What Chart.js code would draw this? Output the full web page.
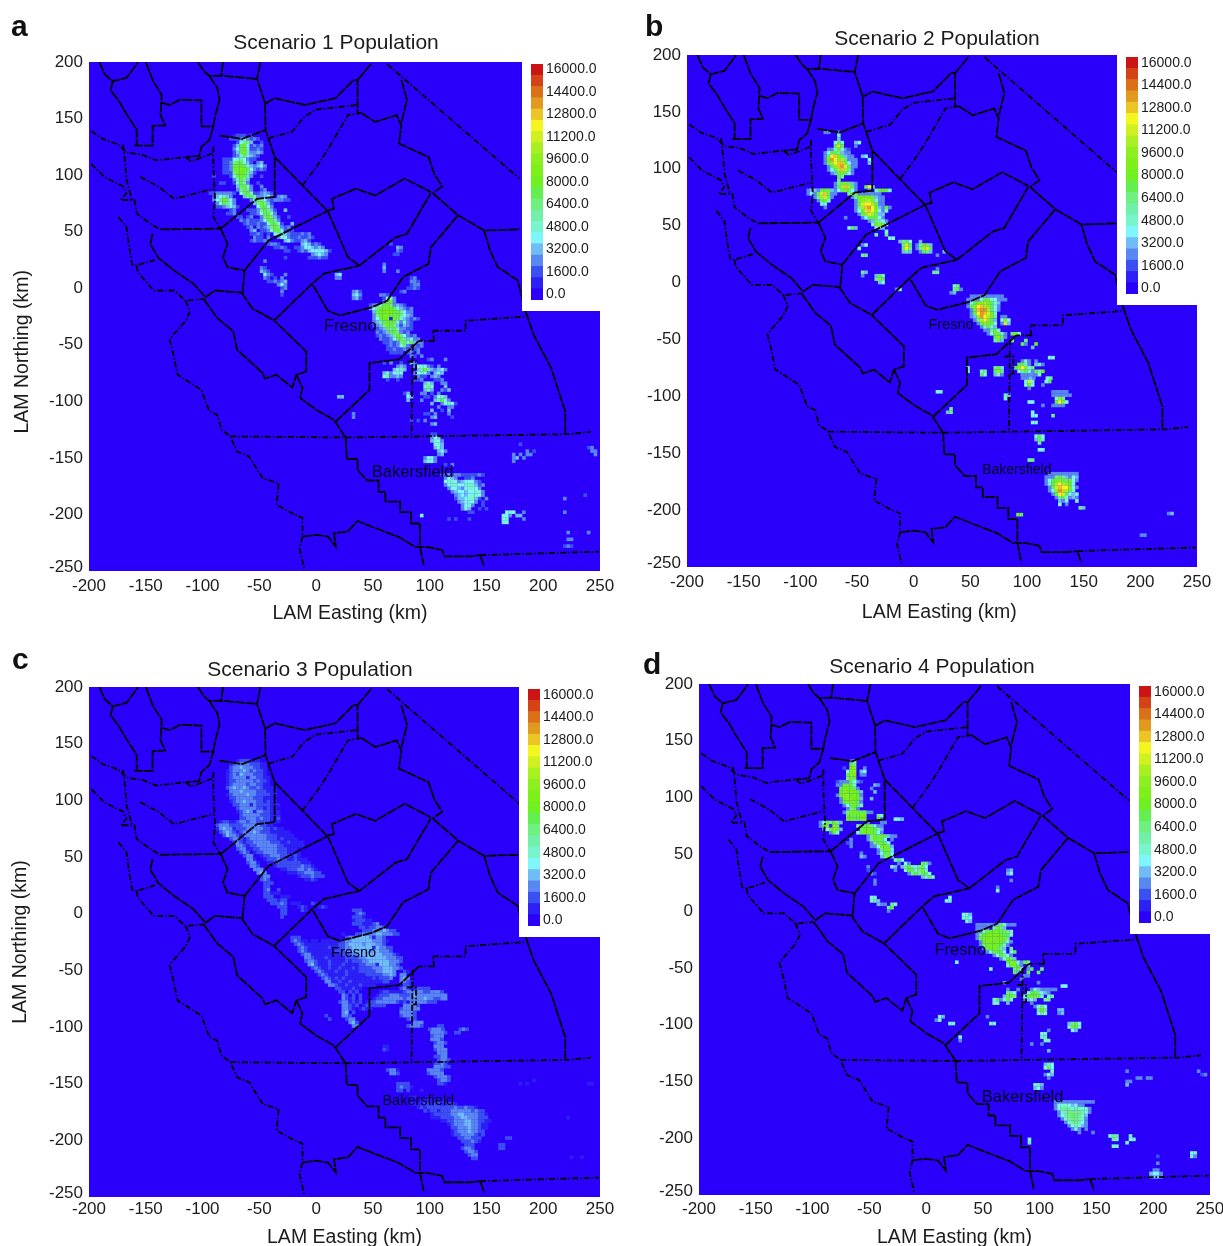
<!DOCTYPE html>
<html>
<head>
<meta charset="utf-8">
<title>Scenario Population</title>
<script src="https://cdn.jsdelivr.net/npm/chart.js@4"></script>
<style>
body { margin: 0; background: #fff; width: 1223px; height: 1246px; position: relative; overflow: hidden; }
canvas { position: absolute; filter: blur(0.6px); }
.letter { position: absolute; font: bold 30px "Liberation Sans", Arial, sans-serif; color: #111; line-height: 30px; }
.key { position: absolute; background: #fff; }
</style>
</head>
<body>
<script>
// Legend, low to high. One band is 800 people.
const bandColors = ['#2a00fa', '#2c20f6', '#3b50f2', '#5a88f2', '#6fbcf6', '#7ff6fb', '#78f5cc', '#70f0a8', '#70f080',
    '#62f050', '#6ff020', '#7cf018', '#8cf020', '#a8f020', '#d0f020', '#f6f61f', '#ecc424', '#e09a20', '#dc7018', '#d44218', '#cc1414'];
const legendTicks = ['16000.0', '', '14400.0', '', '12800.0', '', '11200.0', '', '9600.0', '', '8000.0', '', '6400.0', '', '4800.0', '', '3200.0', '', '1600.0', '', '0.0'];
const eastingTicks = [-200, -150, -100, -50, 0, 50, 100, 150, 200, 250];

// County lines in km, x,y,x,y...
const solidLines = [
    [-191,200,-186,189,-179,183,-167,186,-158,198,-157,200],
    [-179,183,-181,175,-174,166,-167,154,-158,140,-158,126],
    [-150,200,-144,184,-136,171,-137,153,-133,144,-144,143.5,-144,126,-160,126],
    [-136,164,-129,162,-120,166.6,-101,166,-101,143,-90.5,143,-94,131,-101,125,-103,117,-115,116],
    [-104,200,-99,192,-94,187.6,-83.5,188,-52,185],
    [-82,200,-83.5,188],
    [-94,187.6,-87,177,-85,167,-89,152,-90.5,143],
    [-49,200,-52,185,-45,163.6,-44.5,140,-36.5,116,-36.5,81],
    [-85,135,-65,132,-44.5,140],
    [-137.5,52,-84,52.7],
    [-144,48,-146,39,-139,27,-125,15.6,-108,4,-97.5,-8,-89,-2,-64,-4],
    [-84,52.7,-78,39.3,-82,27.5,-78,18.6,-63,15.7],
    [-63,15.7,-42,42,10,68.3],
    [-84,52.7,-52,79,-36.5,80.8],
    [-36.5,116,10,68.3],
    [-63,15.7,-64,4,-65,-5,-56,-18,-37,-28.5],
    [-37,-28.5,-3.5,4,7,13,38,20],
    [38,20,28,27.5,10.4,68],
    [38,20,70,45,80,48,101,84],
    [-45,163,-36.5,168,-10,162,17,168,33,184,36.5,184,36.5,155],
    [36.5,184,49,199],
    [40,155,52,147,71,153,75,144,73,128,99,116,104,101,111,90,102.7,84],
    [75,184,80,166.6,75,146],
    [10.4,69,15.7,70,14,79,35,88,52,82,78,97,101,85],
    [102.7,84,125,64.5,148,51,179.3,52],
    [125,64.5,101,36,99,21.6,76.6,10,62.6,-11,48.7,-17,21,-24,10.4,-20,3.5,-8,-3.5,4],
    [148,51,153,33.7,160,18.6,177.5,7,184.5,-20.5],
    [184.5,-20.5,191.5,-41,207,-70.6,219.4,-109,219.4,-128],
    [90.5,-46.5,73,-63,47,-66,47,-90,16.7,-118.4],
    [-99,-9.5,-87,-26.4,-73,-38,-69.6,-54.4,-47,-75,-45,-80,-35,-76.5,-21,-87.8,-17.4,-76.5,-8.7,-73.6,-8.7,-56,-36.5,-29,-37,-28.5],
    [-17.4,-76.5,-12,-88,-14,-97,0,-107.5,15.7,-116.4,26,-132],
    [26,-132,27,-151,36.5,-151,36.5,-160.6,45,-170,55,-170,55,-180,61,-180,61,-188.6,74,-188.6,74,-198,83.5,-198,83.5,-208,91.5,-208,91.5,-228.5,94.7,-244.7],
    [-12,-219.6,0,-218,10.4,-219.6,17.4,-228.5,15.7,-216.6,28,-215,36.5,-205.8,52,-212,73,-220,87,-228.5,99,-229,111,-231.4,113,-237,135.7,-237,144.4,-236],
    [144.4,-236,148,-246]
];
const dashLines = [
    [-42,132.5,-21,138.5,-10,152,0,158,36.5,162],
    [-12,91,0,107,10,122,28,153,40,155],
    [-198,139,-188,132,-174,127,-167,120,-153,118,-141,113,-115,116,-110,112,-90.5,119.6],
    [-198,110,-186,98,-170,90,-167,84,-172,78,-160,78,-158,66,-146,57,-137.5,52],
    [-170,127,-168,110,-167,96,-162,78],
    [-155,98.5,-139,90,-125,79,-90.5,88],
    [-174,63,-167,54,-165,39,-162,21,-158,20,-142,25],
    [-158,20,-157,14,-143,-2,-125,-2,-115,-11,-99,-9.5],
    [-90.5,125,-90.5,107,-89,78,-90.5,63,-84,52],
    [62.6,198,179,97],
    [102.7,-37.6,131.6,-37.6,131.6,-28.8,184.5,-25],
    [104,-47,102.7,-37.6],
    [104,-46.5,90.5,-46.5],
    [85,-50,84,-131],
    [80,-65,88,-65,88,-80,84,-80],
    [-75.5,-131,26,-132,222.8,-129,242,-127],
    [144.4,-236,249,-232.9],
    [-111,-20.5,-115,-29,-125.6,-41,-129,-45.6,-125.6,-59,-122,-76.5,-101,-90,-94,-109,-87,-112,-83.5,-125,-75.5,-131,-69.6,-144.4,-59,-148.8,-47,-168,-33,-172.4,-34.8,-191.5,-21,-199,-12,-203,-12,-219.6,-14.6,-230,-10.4,-248],
    [-115,-11,-111,-20.5]
];

// Cells on a 3 km grid: [northing, first easting, band, band, ...]
const cellsA = [
    [135,-72,1,2,2,2,1,2],[132,-75,2,2,2,2,3,2,2,3,2],[114,-81,2,2],[111,-81,2,2],[108,-81,2,2],[105,-81,2,2],[102,-81,2,2],[84,-93,2,2,3,3,3,3,3,2],[72,-87,2,2,2],[66,-78,2,2,3],
    [78,-36,2,3,3,2,2],[69,-60,2,2,2],[66,-57,2,2,3],[60,-54,2,2,3],[57,-51,3,2,2],[54,-48,2,3],[51,-48,2,2,3],[54,-30,2,2,3],[51,-27,3,2,2],[48,-18,2,2,3,2,3],[45,-18,2,3,2,2,3,2],[42,-15,2,2],[36,-18,2,2,3],[33,-15,2,3,2],[27,-6,2,2,2,3,2,2],
    [132,-66,3,5,3],[129,-69,2,5,8,8,4,0,0,2],[126,-72,2,4,9,10,5,2,3,2,3],[123,-72,3,5,9,10,6,2,2,3,2],[120,-72,2,4,9,10,7,3,3,4,3],
    [117,-72,2,3,6,9,6,4,3,2],[114,-75,2,5,6,7,5,3,2,2],[111,-75,3,8,9,9,6,4,2,0,3,4],[108,-75,3,9,10,10,9,6,4,3,4,5,3],
    [105,-75,3,9,10,11,10,9,5,3,2,3,2],[102,-75,2,8,10,10,10,8,4,2],[99,-75,2,6,9,10,9,7,3,0,0,2],[96,-72,3,7,9,8,4],[93,-72,2,6,9,7,3,0,0,2],
    [90,-69,4,9,9,6,3,0,0,3],[87,-69,3,8,9,8,3,0,0,2,3],[84,-66,5,9,9,6,2,2,3,4,3,2],[81,-63,4,8,9,7,3,3,4,5,3,0,3,4,3],
    [81,-90,2,4,5,7,4,3],[78,-90,3,5,8,10,9,5,3],[75,-87,3,6,9,8,5,3],[72,-81,3,4,6,4,2],[69,-75,2,3],[99,-90,2],[93,-84,2,2],
    [78,-57,3,6,9,8,5,3,2,3],[75,-54,4,8,10,8,4,2],[72,-51,5,9,9,6,3],[69,-51,3,8,9,8,4,2,0,0,4],[66,-48,5,9,9,6,3],[63,-48,3,8,10,8,4,2,0,0,2],
    [60,-45,5,9,9,7,3],[57,-42,6,9,9,6,2,0,0,4],[54,-42,4,8,10,8,3],[51,-39,6,9,9,5,2],[51,-57,3,4],[48,-36,5,8,6,4,3,2],[45,-33,3,5,5,3,2,2],
    [42,-27,4,5,3,2,0,2],[42,-12,3,4,2],[39,-12,4,5,4,2,3,2],[36,-9,5,5,4,3,4,3],[33,-6,4,5,5,6,5,4,2],[30,-3,3,4,5,4,3],
    [63,-69,2,2,0,2,3],[60,-66,3,2,3,2],[57,-63,2,3,2,2],[54,-60,2,3,0,3],[48,-57,2,2,3,2,0,2],[45,-54,3,2,2,0,3],[42,-57,2,3,2,2,3,2],
    [39,-42,2,3,3,2],[36,-36,2,2,3,2],[33,-27,2,2],[27,-27,2],[24,-45,3],[18,-48,3,2],[15,-48,4,3,2],[12,-45,5,3,2,0,0,0,3],[9,-45,3,2,0,2,0,3],
    [6,-42,2,2,3,2,3,4],[3,-33,3,5,3],[0,-30,2,3],[-3,-30,3],[-6,-30,2],[39,66,2],[36,72,4,3],[33,72,3,2],[30,69,2,2],[21,60,3],[18,60,4],[15,60,3,0,0,0,3],
    [12,18,4,5],[9,18,3,3],[9,84,2,3],[6,84,3,3,2],[3,84,2,3,3],[0,81,2,2,3,2],[-3,33,3,4,2],[-6,33,4,5,3,0,0,0,0,0,3,3,2],[-9,33,3,4,2,0,0,0,0,0,0,2,2],[-3,75,2,3],
    [-9,63,5,6,3],[-12,60,3,9,10,3],[-15,48,2,3,4,6,9,10,8,3,4,3,2],[-18,48,3,5,8,10,10,10,10,9,6,4,3,2,3],[-21,51,4,9,10,10,11,11,10,9,8,5,3,3],
    [-24,51,3,8,10,11,11,10,9,10,8,5,4,3],[-27,51,3,5,9,10,10,1,10,9,6,4,3,2,3,2],[-30,51,3,4,7,9,10,10,9,6,3,6,3,2],[-33,51,2,3,4,8,10,9,8,4,2,4,3,2],
    [-36,54,2,3,4,9,8,9,6,3,3,2,2],[-39,54,3,2,3,4,9,9,8,3,2,3],[-42,54,2,3,2,3,4,8,10,8,5,3,2,3],[-45,57,3,2,2,3,5,9,9,8,4,6,3,3],[-48,60,2,2,3,2,3,8,9,6,9,4,3,3],
    [-51,63,2,3,2,3,5,8,3,2,3,2,3],[-54,63,2,2,3,2,2,3,2,3,2,3],[-57,66,2,2,2,2,0,2,3,0,3],[-60,84,3,2,0,3],[-63,99,2,3,0,0,0,3],[-66,60,2,0,3,0,0,2,0,0,4,3],
    [-69,72,3,4,3,0,0,3,5,6,5,3,2,0,3],[-72,69,4,6,7,4,0,0,0,4,8,9,8,4,3,4,5,3],[-75,60,4,6,3,5,6,5,0,0,0,3,5,7,5,3,0,4,6,4],[-78,60,5,7,3,3,4,3,0,0,0,0,3,2,2,0,3,4,3],
    [-81,63,2,0,0,2,0,0,0,0,2,2,3,0,0,0,2,2,3],[-84,96,4,6,4,0,0,3,3],[-87,96,6,8,6,0,0,0,4],[-90,96,4,7,4,0,0,3,2,4],[-93,78,2,4,0,0,0,3,3,0,2,0,3],
    [-96,81,5,4,0,0,0,2,2,0,3,5,6,4],[-96,20,4,4],[-99,81,4,0,0,0,3,0,0,0,4,7,9,6,3],[-102,102,4,0,0,3,5,7,5,2],[-105,108,3,0,0,3,3],[-108,102,4,0,0,2,0,4],
    [-111,33,3],[-111,96,2,2,0,3,0,0,0,3],[-114,33,3],[-114,102,3,4,0,0,0,0,2],[-117,84,2,0,2,0,3],[-120,102,3,4],[-129,102,2,2],
    [-132,102,3,5,4],[-135,102,4,6,5,3],[-138,105,5,6,4],[-141,105,4,6,4],[-144,108,4,5,3],[-147,108,3,4],[-150,96,3,5,5,3],[-153,96,4,6,5,3],[-147,174,3,0,3,0,3,3],
    [-144,186,3,0,2],[-150,174,3,4,0,3],[-153,174,3],[-141,240,2,3],[-144,243,3,3],[-147,246,3],[-138,180,2],[-156,114,2,0,3],
    [-165,111,2,2,3,2,3,3,2,2,2,2,2,3,2],[-168,114,3,5,4,3,0,0,2,2,3],[-171,114,5,6,6,5,3,4,5,5,5,3,2],[-174,114,3,5,6,6,5,5,6,6,6,4,2,3],[-177,117,3,5,5,4,3,5,6,6,5,3],[-180,120,3,4,5,5,4,5,5,6,6,3],
    [-183,123,3,4,5,4,5,6,6,5,3],[-186,123,2,4,4,5,6,6,4,2,0,3],[-189,126,3,4,5,6,5,3,0,2],[-192,129,3,5,6,3,0,0,2],[-195,129,3,5,4,0,0,2,0,2],[-198,135,2,2,0,0,0,0,0,0,0,0,0,5,6,5,0,0,3],
    [-201,93,5],[-201,165,5,5,3,0,4,4],[-198,219,3],[-204,117,2,0,2,0,0,0,2],[-204,165,5,6,0,0,0,0,3],[-207,165,6,5],
    [-186,219,3],[-216,222,3],[-216,240,3],[-222,222,3,3],[-228,219,2,3,2],[-183,237,2]
];
const cellsB = [
    [117,-75,3,3,3,3,3,3,2],[114,-78,3,3,3,3,3,3,3,3],[111,-78,3,3,3,3,3,3,3,3,3],[108,-78,3,3,3,3,3,3,3,3,3,3],[105,-78,3,3,3,3,3,3,3,3,3,3],[102,-75,3,3,3,3,3,3,3,3,3],[99,-75,3,3,3,3,3,3,3,3],[96,-72,3,3,3,3,3,3,3],
    [87,-69,3,3,3,3,3,3,3],[84,-69,3,3,3,3,3,3,3],[81,-69,3,3,3,3,3,3,3],[81,-93,3,3,3,3,3,3,3,3,3],[78,-93,3,3,3,3,3,3,3,3,3],[75,-87,3,3,3,3,3,3],[72,-84,3,3,3,3],
    [78,-54,3,3,3,3,3,3,3,3,3],[75,-54,3,3,3,3,3,3,3,3,3,3],[72,-51,3,3,3,3,3,3,3,3,3],[69,-51,3,3,3,3,3,3,3,3,3],[66,-51,3,3,3,3,3,3,3,3,3],[63,-51,3,3,3,3,3,3,3,3,3],[60,-48,3,3,3,3,3,3,3,3],[57,-45,3,3,3,3,3,3,3],[54,-39,3,3,3,3,3,3],
    [-12,51,3,3,3,3,3,3,3,3,3,3],[-15,48,3,3,3,3,3,3,3,3,3,3,3,3],[-18,48,2,2],[-21,48,3],[-24,51,3],[-27,51,3],[-30,51,3],[-33,54,3],[-36,57,3],[-39,60,3],[-42,63,3],[-45,66,3],
    [-72,99,3,3],[-72,108,3],[-75,99,3],[-81,96,3,3,3,3,3],[-84,96,3,3],[-96,123,3,3,3,3,3],[-99,123,3,3,3,3,3,3],[-108,123,3,3,3,3],
    [-168,120,3,3,3,3,3,3,3,3,3],[-171,117,3,3],[-174,117,3],[-177,117,3],[-180,120,3],[-183,120,3],[-186,123,3],[-189,126,3],
    [132,-78,3,3],[132,-66,3],[129,-66,7],[126,-66,4],[123,-69,5,9,6,0,0,0,4,5],[120,-69,9,14,9,0,0,0,3],[117,-69,6,10,6],
    [114,-75,5,9,9,8,4],[111,-75,9,15,16,11,9,4,0,0,0,0,4,5],[108,-75,10,17,15,12,13,9,3,0,0,0,0,0,5],[105,-75,9,12,15,16,16,11,5,0,3,0,0,0,4],
    [102,-72,9,12,16,17,14,9],[99,-72,5,9,13,16,13,8],[96,-69,4,9,10,9,5],[93,-66,9,7],[90,-66,8],
    [87,-66,8,9,11,9,4],[84,-66,9,13,16,13,9,0,0,0,9,15,6],[81,-66,5,9,11,9,5,0,0,0,0,3,0,6,9,10,9,6],[78,-57,7,10,8],
    [81,-90,4,4,3,9,10,9,4],[78,-90,5,3,9,14,16,9,3],[75,-84,8,13,14,9],[72,-81,9,10,6],[69,-81,5,6],[66,-78,3],
    [75,-51,8,10,11,11,10,9,4],[72,-48,9,12,13,13,11,6],[69,-48,9,14,15,15,13,9],[66,-48,8,13,16,17,15,10,4,0,9,3],[63,-48,5,10,14,16,15,11,5,3,6],
    [60,-45,9,12,14,13,9,4,4],[57,-42,5,9,10,9,5],[54,-36,4,8,7,5],[51,-36,5,10,12,10,5],[48,-33,5,7,4],[48,-57,5,9,4],[57,-60,3],[45,-24,5],[42,-24,8],
    [42,-33,7],[39,-21,5,5],[36,-12,4,8,9,5,0,0,4],[33,-9,8,14,9,0,3,7,11,9,4],[30,-9,9,15,8,0,3,8,13,14,9],[27,-9,4,8,4,0,0,3,9,8,4,0,0,0,4],
    [33,-45,3,5],[30,-48,5],[24,-45,7,8],[24,21,3],[9,-45,8,4],[6,-45,3],[6,-33,4,9,6],[3,-33,8,12,9],[0,-30,4,5],[9,18,7,8],[12,21,3],[-6,-15,3,6],
    [-3,36,6,8],[-6,36,8,9,3],[-9,33,3,4],
    [-15,57,3,6,9,9,6,5,3],[-18,51,5,9,11,12,13,11,9,6,4],[-21,51,9,12,15,16,13,12,9,5,3],[-24,54,10,16,17,17,13,9,5,3],[-27,54,9,15,17,16,14,10,6],
    [-30,54,4,12,17,15,13,11,8,0,3,3],[-33,57,8,13,15,12,9,4,0,5,12,5],[-36,60,9,12,10,9,5,0,3,14,4],[-39,63,6,9,6,4],[-42,66,3,8,9,6],[-45,69,5,10,9,6,3,0,9,11,5],
    [-48,72,9,12,9,3],[-51,72,7,9,4,0,0,8,0,0,0,8],[-54,96,9,3,0,0,10],[-57,105,4],
    [-66,120,5,5],[-69,96,3,6,3,0,3],[-72,93,9,9,7,3,0,4,7,3],[-75,72,8,9,6,0,0,0,9,12,15,12,6,8],[-78,60,6,8,0,0,9,12,8,0,0,0,0,5,8,9,6,3,9,7,10],
    [-75,48,5],[-78,48,6],[-81,60,9,5,0,0,4,6,3,0,0,0,0,0,3,0,0,0,0,6],[-84,100,3,4,3,0,0,0,5,8],[-87,99,6,14,6,0,0,0,5,9],[-90,99,5,11,5,0,0,3],[-93,102,3],
    [-96,21,5,6],[-99,81,7,4],[-102,81,6],[-102,126,6,12,8],[-105,126,9,15,12,5],[-105,102,5,5],[-108,114,3],[-111,33,8],[-114,30,4,8],[-114,105,5],[-117,105,5,5,0,0,0,0,8],
    [-123,105,5,6],[-135,108,5,9,5],[-138,108,4,9,6],[-141,111,7],[-147,111,5,5],[-156,102,7,8],
    [-171,123,3,8,9,8,4,3,5,4],[-174,120,5,9,10,12,9,9,10,5,3],[-177,120,6,9,13,15,13,12,10,5],[-180,123,9,14,16,15,15,11,5,3],[-183,123,5,12,17,16,13,9,6],
    [-186,126,9,15,14,9,5,4,5],[-189,129,8,9,6,3,4,3],[-192,129,4,3,5,0,0,5],[-195,129,5,0,3],[-198,147,8,4],[-204,92,10,9],[-203,225,3,4],[-222,201,3,3]
];
const cellsC = [
    [135,-69,1,2,2,2,1,1,1],[132,-75,1,2,3,3,3,3,2,2,2,1,1],[129,-75,2,3,3,4,3,3,3,2,2,1,1],[126,-78,1,2,3,3,3,4,3,2,3,2,2,1],[123,-78,1,2,3,2,4,3,3,3,2,2,2,1],
    [120,-78,1,2,3,3,3,3,1,3,3,2,2,1,1],[117,-78,1,2,2,3,3,3,3,3,2,3,2,2,1],[114,-78,1,2,3,3,3,3,2,3,3,2,2,1,1],[111,-78,2,3,4,3,3,4,3,2,2,3,2,1,1,1],
    [108,-75,3,3,3,4,3,3,3,3,2,2,2,1,1,1],[105,-78,1,2,3,3,3,3,4,3,3,2,2,2,2,1,1],[102,-75,2,2,3,3,3,3,3,2,2,2,1,1,1],[99,-75,1,2,3,3,4,3,3,3,2,2,1,2,1,1],
    [96,-72,2,2,3,3,3,1,3,2,2,2,2,1,1,1],[93,-69,2,3,3,3,3,3,2,2,1,2,1,1],[90,-69,1,2,3,4,3,1,3,3,2,2,1,1,1],[87,-66,2,3,3,3,3,3,2,2,2,1,1,1],[84,-66,2,2,3,3,3,2,3,2,2,1,1,2],
    [81,-84,1,2,2,1,1,2,3,3,2,3,3,2,2,2,2,1,1,1],[78,-87,2,3,3,3,2,2,2,2,3,3,3,3,3,2,2,1,1],[75,-87,1,3,4,3,3,1,2,2,2,3,3,3,3,3,2,2,1,2,1,1],[72,-84,2,3,4,3,2,1,2,3,3,3,4,3,2,2,2,1,1,1,1,1,1],
    [69,-81,2,4,3,3,2,1,3,3,3,3,3,3,3,2,2,2,1,1,1,1,1],[66,-75,2,3,3,2,1,2,3,3,3,3,3,2,2,2,1,2,1,1,1,1],[63,-72,2,3,2,1,2,2,3,3,3,3,3,2,2,2,1,1,2,1,1,1,1],[60,-69,3,3,2,1,2,2,3,3,3,3,3,3,2,2,1,1,1,1,1,1],
    [57,-69,2,3,3,1,1,2,2,3,3,3,3,3,2,2,2,1,1,1],[54,-66,2,3,2,0,1,2,2,3,3,3,3,2,2,2,1,1,1,1],[51,-63,2,3,3,0,0,1,2,2,3,3,3,2,2,2,1,2,1],[48,-60,3,3,1,0,0,1,2,2,2,3,2,2,1,1,2,1,1,1],
    [45,-60,2,3,3,1,0,0,1,1,2,2,2,2,2,2,2,2,1,1,1],[42,-57,3,3,2,0,0,0,0,1,2,2,2,2,2,2,2,3,2,2,1],[39,-54,3,3,3,0,0,0,0,0,1,1,2,2,2,3,3,2,3,2,1],[36,-51,3,4,3,0,0,0,0,0,0,1,1,1,2,2,3,3,3,2,2],
    [33,-48,2,3,3,0,0,0,0,0,0,0,0,1,2,2,2,3,2,2,2],[30,-48,2,3,2,0,0,0,0,0,0,0,0,0,0,1,1,2,1],[27,-45,2,2,2],[24,-45,2,2],[21,-45,2,3,0,0,2],[18,-45,2,2,1,1,1],[15,-45,2,2,2,0,0,1,1,1],
    [12,-42,2,2,2,1,2,2],[9,-39,2,2,2,3,2,0,1,1,1,0,0,0,2,1],[6,-33,2,2,2,0,0,0,1,2,1,0,0,0,1,2,1],[3,-30,2,2,0,0,0,0,2,1],[3,33,2,2,2],[0,-30,2,2],[0,36,2,3,2],[-3,-30,2],[-3,33,2,2,2,1],[-6,33,1,2,2,2,1,1],
    [-9,33,2,2,2,1,1,1,2,3],[-12,39,2,2,1,2,2,3,3,2],[-15,42,2,2,2,3,3,3,4,3,2,2],[-18,24,1,0,0,0,2,2,3,3,3,3,4,4,3,3,3,2,2],[-21,-21,2,2,2,0,0,0,0,0,0,0,0,0,0,0,0,0,2,3,3,4,4,4,4,3,1,3,3,2],
    [-24,-21,2,3,2,1,1,0,1,1,0,1,1,1,1,1,1,2,3,3,4,4,4,4,4,4,3,3,3,2,1],[-27,-18,2,3,2,1,1,1,1,1,1,1,1,1,1,2,2,3,4,4,4,4,3,4,4,4,3,3,2],[-30,-15,2,3,2,1,1,1,1,1,1,2,1,1,2,2,3,3,4,4,4,4,4,4,1,4,3,3,2,2],
    [-33,-15,2,3,2,1,1,1,1,1,1,1,1,2,2,2,3,3,4,4,4,4,4,3,4,4,3,3,3,2],[-36,-12,2,3,3,1,1,1,1,1,1,1,1,1,2,2,2,3,3,4,4,4,4,4,4,4,3,3,3,2,1],[-39,-9,3,3,2,1,1,1,2,1,1,1,1,1,2,2,2,2,3,3,4,4,4,4,4,4,3,3,3,2,2],
    [-42,-9,2,3,3,2,1,1,1,2,1,1,1,1,2,1,2,2,2,3,3,4,4,4,4,4,4,3,3,3,2],[-45,-6,3,4,2,1,1,1,2,1,1,1,2,1,1,1,1,2,2,3,3,3,1,4,4,4,3,3,2],[-48,-3,2,3,2,1,1,2,1,1,2,1,1,1,2,1,2,2,2,2,3,3,3,4,4,4,3,3,2],
    [-51,0,2,3,2,1,1,1,2,1,1,2,1,1,1,2,2,2,2,2,3,3,4,4,4,3,0,0,2,1],[-54,3,2,3,2,1,1,1,1,1,2,1,1,1,1,1,2,2,2,2,2,3,3,4,3,0,3,3],[-57,6,2,3,2,1,2,1,2,1,1,1,1,1,1,1,1,2,1,2,2,2,3,0,0,3,4,3],
    [-60,9,3,3,1,1,2,1,1,2,1,1,1,1,1,1,1,1,1,2,2,0,0,0,3,3,2,1],[-63,12,3,3,2,1,1,2,1,1,1,2,1,1,1,1,0,0,0,0,0,0,0,0,2,2,1],[-66,18,2,2,1,1,1,2,1,1,0,0,0,0,0,0,0,0,0,0,0,2,3,2,1,1,2,2,2,2],
    [-69,21,2,2,0,2,1,2,0,0,0,0,0,0,1,2,2,1,1,1,1,2,3,3,3,3,3,2,2,3,3,3,2],[-72,24,3,2,0,2,0,2,0,0,0,0,1,2,2,2,3,3,3,2,2,2,3,4,3,3,3,3,3,3,3,3,3],[-75,24,3,2,1,2,0,2,0,0,0,1,2,2,3,3,3,3,3,3,2,3,3,3,3,3,4,3,3,2,2,3,3],
    [-78,21,2,3,3,1,2,1,2,0,1,2,2,3,3,3,3,3,3,2,1,2,0,3,3,3,3,3,2,2,2],[-81,24,3,3,2,1,2,0,1,2,2,2,2,2,2,0,0,0,0,0,3,3,3,3,2],[-84,24,3,3,2,1,0,1,2,1,1,0,0,0,0,0,0,0,0,2,3,3,3,3,3],
    [-87,24,3,4,0,2,0,0,0,0,0,0,0,0,0,0,0,0,0,3,3,3,3,2],[-90,9,2,0,0,0,0,3,3,2,0,0,0,0,0,0,0,0,0,0,0,0,0,0,2,3,3,3,2],[-93,12,2,0,0,0,0,2,3,3,0,0,0,0,0,0,0,0,0,0,0,0,0,0,0,2,3,2],[-96,30,3,4,2,0,0,0,0,0,0,0,0,0,0,0,0,0,0,0,0,3,3,3],
    [-99,33,3,3,0,0,0,0,0,0,0,0,0,0,0,0,0,0,2,3,3,3,2,0,0,0,0,2,2],[-102,100,2,3,3,3,2,0,0,0,0,2,3,2],[-105,102,3,3,3,3,2,0,0,2,2],[-108,102,2,3,3,3],[-111,102,3,3,3,2],[-114,105,2,3,3,2],
    [-117,60,1,1],[-117,105,3,3,3],[-120,60,2,1],[-120,105,2,3,3,3],[-123,108,3,3,3],[-126,105,2,2,3,3],[-129,108,2,3,3,2],[-132,105,2,2,3,2],[-135,105,3,3,3,2,2],[-138,63,2,3,3,1,0,0,0,0,0,0,0,0,3,3,3,3,2],[-141,66,3,3,2,0,0,0,0,0,0,0,0,2,3,3,3,3],
    [-144,105,2,3,3,3,2],[-147,108,2,3,3,2],[-150,72,2,2,2,2,0,0,0,0,0,0,0,0,2,2,1],[-153,72,2,3,2,2,1],[-156,72,2,2,0,2,0,0,0,1],[-162,84,1,1,0,0,0,1],[-165,93,1,1,1,1,1,1,1],
    [-168,84,1,1,1,1,2,2,1,2,2,1,1,2,2,1],[-171,90,1,2,1,2,2,2,2,2,2,2,2,3,2,2,3,2,2,1],[-174,96,2,1,2,2,1,2,2,2,3,3,3,3,3,3,2,3,2,2],[-177,102,1,2,2,2,2,2,3,3,4,4,3,3,3,3,2,2,1],[-180,102,1,1,1,2,2,2,2,3,3,4,4,3,3,3,2,2,2],
    [-183,111,1,1,2,2,3,3,3,4,4,3,3,2,2,1,1],[-186,117,1,2,3,3,3,4,4,3,3,2,1,1],[-189,120,2,2,3,3,3,4,3,3,2,1,1],[-192,120,1,2,3,3,3,4,3,3,2,2],[-195,120,1,2,2,3,3,3,3,2,1,2],[-198,126,2,2,3,3,2,2,2,0,0,0,0,0,0,0,2,2],
    [-201,129,2,2,2,3,2,1],[-204,132,2,2,2,0,0,0,0,0,0,0,2,2],[-207,129,2,3,3,2,0,0,0,0,0,0,0,2,2],[-210,132,2,3,3,2],[-213,135,2,3,3],[-216,138,2,2],
    [-180,222,1],[-150,180,1,0,1],[-147,192,1],[-150,240,1,1],[-215,225,1,0,0,1]
];
const cellsD = [
    [114,-78,2,3,3,3,3,3,3,2],[111,-78,3],[102,-78,3,3],[99,-75,3],[96,-75,3],[93,-72,3,3],[87,-72,3,3,3,3,3,3,3,3,3],[78,-93,3],[75,-93,3],[72,-90,3],[66,-51,3,3,3,3,3,3,3,3,3],[63,-51,3,3,3,3],[60,-48,3],[57,-48,3,3,3],[54,-42,3],[51,-42,3],
    [-12,48,3,3,3,3,3,3,3,3,3,3,3],[-15,45,3,3,3,3],[-18,45,3,3],[-21,45,3],[-24,45,3],[-27,48,3],[-30,48,3],[-33,51,3],[-36,54,3],[-39,60,3],[-42,66,3,3],
    [-168,114,3,3,3,3,3,3,3,3,3,3,3,3],[-171,114,3],[-174,114,3],[-177,117,3],[-180,117,3],[-183,120,3],[-186,123,3],[-189,126,3],[-69,99,3,3,3,3,3,3],[-84,96,3,3],
    [132,-66,3,6],[129,-66,9,8],[126,-72,2,0,11,12,0,0,3],[123,-69,5,11,12,0,4,5],[120,-69,9,12,11,0,3,3],[117,-69,8,11,9],[114,-66,9,5],[111,-75,3,9,10,9,6,0,0,0,0,0,4,3],
    [108,-75,9,11,10,10,9,3,0,0,0,3],[105,-75,10,12,10,11,10,9,4,0,0,0,4],[102,-75,10,11,12,10,11,10,3],[99,-72,10,12,11,10,10,4,0,0,4],[96,-72,9,10,11,10,9,3],[93,-69,5,9,10,9,6],[90,-69,3,8,9,3],
    [87,-69,8,11,10,10,9,9],[84,-69,9,10,9,10,11,10,0,0,0,8,6],[81,-69,10,11,9,9,11,10,0,0,0,9,3,0,0,0,5,6,4],[78,-90,5,9,8,10,8,4,0,0,0,0,0,0,0,3,0,0,0,3,3],[75,-90,9,12,1,12,9,0,0,0,0,0,7,9,9,10,8,6,3,3],
    [72,-87,5,11,12,10,4,0,0,0,0,0,9,10,10,10,9,7,4],[69,-84,3,9,6,0,0,0,0,0,5,9,10,10,10,9,5,3],[66,-48,8,10,9,10,9,4,3],[63,-66,3,0,0,0,0,0,8,10,9,9,6,0,3],[60,-69,2,3,0,0,0,0,0,0,8,10,9,9,5],
    [57,-66,3,0,0,0,0,0,0,0,5,10,10,9,4],[54,-39,8,10,10,6],[51,-57,3,0,0,0,0,0,5,9,9,5],[48,-57,4,3,0,0,0,0,4,8,9,5],[45,-27,6,9,5],[42,-24,3,0,5,3,0,0,0,9,8,3],[39,-51,3,0,0,0,0,0,0,5,4,0,4,8,9,7,6,8,9,5],
    [36,-51,2,0,0,0,0,0,0,0,3,0,0,6,10,9,6,8,10,6],[33,-48,3,2,0,0,0,0,0,0,0,0,0,3,8,9,7,9,9,5],[30,-3,4,6,9,6],[27,-45,3],[36,72,3,4],[33,72,4,5],[27,75,3],[24,-45,3],[18,63,5],[21,63,3],
    [12,-48,5,6],[9,-48,6,7,4],[9,18,5,6],[12,21,5],[6,-42,4,3,3,0,8,5],[3,-33,8,9],[0,-33,3],[-3,33,5,6,4],[-6,33,6,7,5],[-9,36,5,4],[-12,45,3],
    [-12,63,4,9,6],[-15,60,7,10,8,4],[-18,51,6,9,10,10,10,9,9,8,6],[-21,48,8,10,10,11,10,11,10,9,9,5],[-24,48,9,11,10,11,11,10,11,10,8],[-27,51,10,11,11,10,11,10,9,6,3],[-30,51,8,10,11,10,10,9,6,3],
    [-33,54,9,10,10,9,8,4,0,8],[-36,57,6,9,10,9,5,0,5,9],[-39,63,5,9,8,5,3],[-42,69,6,10,9,4],[-45,27,5],[-45,72,9,11,10,5,3,9,8],[-48,72,6,9,11,9,3,0,4],[-51,57,5],[-51,78,8,10,5,0,3,9,0,0,8],[-54,78,9,4,0,0,9,0,0,9],
    [-57,87,3,3],[-60,84,3],[-63,69,3,0,0,0,0,0,0,0,0,0,3],[-66,120,5,5],[-69,72,3,0,0,3,0,0,0,3,6,4],[-72,72,8,8,5,0,0,0,5,9,9,8,5,4,3],[-75,69,4,9,10,8,0,0,5,9,10,10,9,6,0,6,7],[-78,60,6,9,3,6,9,6,0,0,0,3,4,6,4,0,0,7,8],
    [-81,60,5,6,0,0,4,0,0,0,0,0,0,3],[-84,99,6,8,5],[-87,99,8,10,8,0,0,0,4,4],[-90,99,5,8,5,0,0,0,3,4],[-93,12,5,4,0,0,0,0,0,0,0,0,0,0,0,0,3],[-96,9,3,6],[-99,21,5,6,0,0,0,0,0,0,0,0,0,0,6,5],
    [-99,126,4,8,9,5],[-102,126,6,9,10,6],[-105,129,5,4],[-105,108,3],[-108,102,5,6],[-111,30,5],[-111,102,6,7],[-114,30,3],[-114,105,6,6],[-117,93,3,0,0,3],[-123,108,4],
    [-135,105,4,7,5],[-138,105,5,9,5],[-141,111,6],[-144,105,3,5,4],[-147,108,3],[-153,96,5,7,4],[-156,96,4,5,3],[-141,177,3],[-141,240,3],[-147,186,3,3,0,3,3],[-150,177,3,3],[-153,177,4],[-144,243,2,3,0,3],
    [-171,117,5,6,6,5,4,5,3,3],[-174,117,6,7,8,7,6,7,6,6,6,3],[-177,120,6,7,8,8,7,8,7,5,3],[-180,120,5,7,8,9,8,8,6,4],[-183,123,6,7,8,8,7,6,3],[-186,126,6,8,8,7,5,3],[-189,129,5,7,6,4,3],[-192,129,3,5,3,0,3],
    [-195,135,3,0,0,0,3],[-198,162,5,8,7,0,0,0,6],[-201,165,7,6,0,0,0,5,6],[-201,91,5],[-204,91,7],[-204,177,6],[-207,165,6,6],[-213,234,5,6],
    [-216,234,6,3],[-228,201,3,3],[-231,198,4,5,5,3],[-234,198,3,4,4,3],[-222,204,3],[-216,204,2]
];

const panels = [
    { name: 'a', title: 'Scenario 1 Population', cells: cellsA, showY: true, left: 0, plotLeft: 89, plotTop: 62, plotW: 511, plotH: 509, letter: [11, 11], titleCx: 336, titlePad: 5.8, xTitleDrop: 54, tickPad: 5, yShift: 13, yTitlePad: 11, xLead: '  ', xTrail: '',
        key: [522, 62, 80, 249], fresno: [30, -34, 17], bakersfield: [85, -163, 16.5] },
    { name: 'b', title: 'Scenario 2 Population', cells: cellsB, showY: false, left: 640, plotLeft: 687, plotTop: 55, plotW: 510, plotH: 512, letter: [645, 11], titleCx: 937, titlePad: 2.8, xTitleDrop: 57, tickPad: 5, yShift: 0, yTitlePad: 0, xLead: '', xTrail: ' ',
        key: [1117, 55, 82, 250], fresno: [33, -37, 14.5], bakersfield: [91, -165, 14] },
    { name: 'c', title: 'Scenario 3 Population', cells: cellsC, showY: true, left: 0, plotLeft: 89, plotTop: 687, plotW: 511, plotH: 510, letter: [12, 644], titleCx: 310, titlePad: 3.8, xTitleDrop: 52, tickPad: 2, yShift: 0, yTitlePad: 9, xLead: '', xTrail: '',
        key: [519, 687, 81, 250], fresno: [33, -35, 14.5], bakersfield: [90, -165, 14.5] },
    { name: 'd', title: 'Scenario 4 Population', cells: cellsD, showY: false, left: 651, plotLeft: 699, plotTop: 684, plotW: 511, plotH: 511, letter: [643, 649], titleCx: 932, titlePad: 3.8, xTitleDrop: 54, tickPad: 4, yShift: 0, yTitlePad: 0, xLead: '', xTrail: '',
        key: [1130, 684, 80, 250], fresno: [30, -35, 16.5], bakersfield: [85, -164, 16.5] }
];

const sans = '"Liberation Sans", Arial, sans-serif';
const ink = '#1c1c1c';

function toPoints(flat) {
    const pts = [];
    for (let i = 0; i < flat.length; i += 2) pts.push({ x: flat[i], y: flat[i + 1] });
    return pts;
}

function lineDataset(flat, dash) {
    return { type: 'scatter', data: toPoints(flat), showLine: true, pointRadius: 0, borderColor: '#000', borderWidth: 1.8, borderDash: dash, tension: 0 };
}

function cellDataset(rows) {
    const pts = [];
    const colors = [];
    rows.forEach(row => {
        for (let i = 2; i < row.length; i++) {
            if (row[i] > 0) {
                pts.push({ x: row[1] + (i - 2) * 3, y: row[0] });
                colors.push(bandColors[row[i]]);
            }
        }
    });
    return { type: 'scatter', data: pts, pointStyle: 'rect', pointRadius: 2.55, pointBorderWidth: 0, pointBackgroundColor: colors, showLine: false };
}

function addCanvas(left, top, width, height) {
    const c = document.createElement('canvas');
    c.width = width;
    c.height = height;
    c.style.left = left + 'px';
    c.style.top = top + 'px';
    c.style.width = width + 'px';
    c.style.height = height + 'px';
    document.body.appendChild(c);
    return c;
}

// Fills the plot, moves the title to where the figure has it, prints the city names
const mapPlugin = {
    id: 'mapPlugin',
    afterLayout(chart) {
        const p = chart.options.plugins.mapPlugin;
        const dx = p.titleCx - p.left - (chart.titleBlock.left + chart.titleBlock.right) / 2;
        chart.titleBlock.left += dx;
        chart.titleBlock.right += dx;
    },
    beforeDatasetsDraw(chart) {
        const a = chart.chartArea;
        chart.ctx.fillStyle = bandColors[0];
        chart.ctx.fillRect(a.left, a.top, a.right - a.left, a.bottom - a.top);
    },
    afterDatasetsDraw(chart) {
        const p = chart.options.plugins.mapPlugin;
        const ctx = chart.ctx;
        ctx.save();
        ctx.fillStyle = '#000020';
        ctx.textAlign = 'center';
        ctx.textBaseline = 'middle';
        [['Fresno', p.fresno], ['Bakersfield', p.bakersfield]].forEach(([text, at]) => {
            ctx.font = at[2] + 'px ' + sans;
            ctx.fillText(text, chart.scales.x.getPixelForValue(at[0]), chart.scales.y.getPixelForValue(at[1]));
        });
        ctx.restore();
    }
};

panels.forEach(p => {
    const topPart = Math.round(25.2 + p.titlePad);
    const canvasTop = p.plotTop - topPart;
    const axisWidth = p.plotLeft - p.left;
    const rightPad = 24;
    const width = axisWidth + p.plotW + rightPad;
    const height = topPart + p.plotH + p.xTitleDrop;
    const canvas = addCanvas(p.left, canvasTop, width, height);

    const datasets = [];
    solidLines.forEach(l => datasets.push(lineDataset(l, [10, 1])));
    dashLines.forEach(l => datasets.push(lineDataset(l, [6, 2, 1.5, 2])));
    datasets.push(cellDataset(p.cells));

    new Chart(canvas, {
        type: 'scatter',
        data: { datasets: datasets },
        plugins: [mapPlugin],
        options: {
            responsive: false,
            animation: false,
            events: [],
            layout: { padding: { right: rightPad, left: 0, top: 0, bottom: 0 } },
            plugins: {
                legend: { display: false },
                tooltip: { enabled: false },
                title: { display: true, text: p.title, color: ink, font: { family: sans, size: 21, weight: 'normal' }, padding: { top: 0, bottom: p.titlePad } },
                mapPlugin: { left: p.left, titleCx: p.titleCx, fresno: p.fresno, bakersfield: p.bakersfield }
            },
            scales: {
                x: {
                    type: 'linear', min: -200, max: 250,
                    afterBuildTicks: axis => { axis.ticks = eastingTicks.map(v => ({ value: v })); },
                    afterFit: axis => { axis.height = p.xTitleDrop; },
                    grid: { display: false, drawTicks: false },
                    border: { display: false },
                    ticks: { color: ink, font: { family: sans, size: 17 }, padding: p.tickPad, maxRotation: 0, autoSkip: false },
                    title: { display: true, text: p.xLead + 'LAM Easting (km)' + p.xTrail, color: ink, font: { family: sans, size: 19.5 }, padding: 0 }
                },
                y: {
                    type: 'linear', min: -250, max: 200,
                    ticks: {
                        stepSize: 50, color: ink, padding: 6, autoSkip: false,
                        // the bottom label sits a little above its tick in the figure
                        callback: v => (v === -250 ? ['-250', ''] : v),
                        font: ctx => ({ family: sans, size: 17, lineHeight: ctx.tick && ctx.tick.value === -250 ? 0.45 : 1.2 })
                    },
                    afterFit: axis => { axis.width = axisWidth; },
                    grid: { display: false, drawTicks: false },
                    border: { display: false },
                    title: { display: p.showY, text: 'LAM Northing (km)' + ' '.repeat(p.yShift), color: ink, font: { family: sans, size: 19.5 }, padding: { top: p.yTitlePad } }
                }
            }
        }
    });

    const letter = document.createElement('div');
    letter.className = 'letter';
    letter.textContent = p.name;
    letter.style.left = p.letter[0] + 'px';
    letter.style.top = p.letter[1] + 'px';
    document.body.appendChild(letter);

    // Colour key sits on a white box over the plot corner
    const [kx, ky, kw, kh] = p.key;
    const box = document.createElement('div');
    box.className = 'key';
    box.style.cssText = 'left:' + kx + 'px;top:' + ky + 'px;width:' + kw + 'px;height:' + kh + 'px';
    document.body.appendChild(box);
    const keyCanvas = addCanvas(kx, ky, kw, kh);
    new Chart(keyCanvas, {
        type: 'bar',
        data: {
            labels: legendTicks,
            datasets: [{ data: legendTicks.map(() => 1), backgroundColor: bandColors.slice().reverse(), barPercentage: 1, categoryPercentage: 1, borderWidth: 0 }]
        },
        options: {
            indexAxis: 'y',
            responsive: false,
            animation: false,
            events: [],
            layout: { padding: { left: 9, top: 2, bottom: 11, right: 0 } },
            plugins: { legend: { display: false }, tooltip: { enabled: false } },
            scales: {
                x: { display: false, min: 0, max: 1 },
                y: {
                    position: 'right',
                    afterFit: axis => { axis.width = kw - 21; axis.paddingTop = 0; axis.paddingBottom = 0; },
                    grid: { display: false, drawTicks: false },
                    border: { display: false },
                    ticks: { autoSkip: false, color: ink, padding: 3, font: { family: sans, size: 14 } }
                }
            }
        }
    });
});
</script>
</body>
</html>
